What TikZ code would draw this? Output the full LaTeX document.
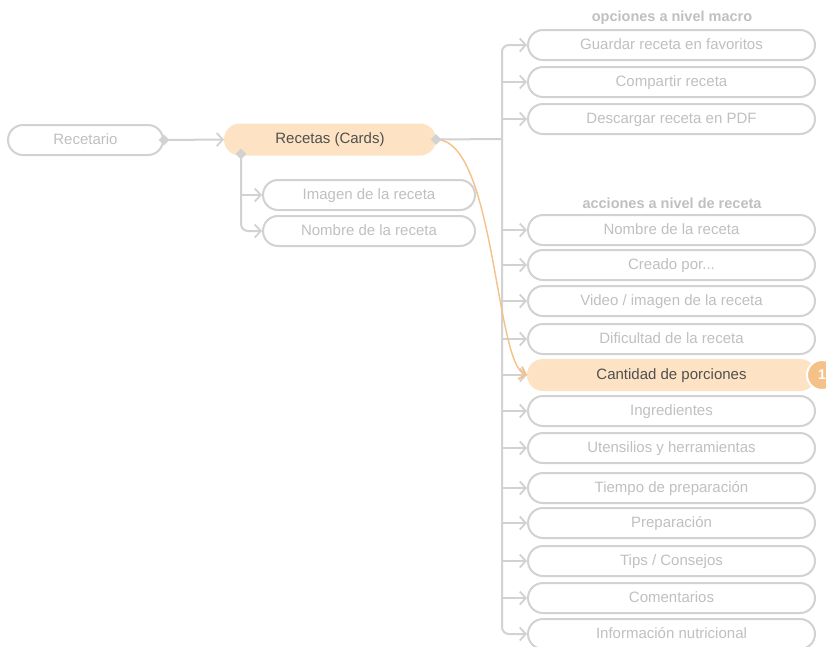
\documentclass[tikz,border=0pt]{standalone}
\usepackage{fontspec}
\setmainfont{Liberation Sans}
\usetikzlibrary{arrows.meta,shapes.geometric}

\definecolor{linegray}{HTML}{D2D2D2}
\definecolor{textgray}{HTML}{C0C0C0}
\definecolor{peach}{HTML}{FDE3C4}
\definecolor{accent}{HTML}{F6C188}
\definecolor{darktext}{HTML}{505050}

\tikzset{
  item/.style={draw=linegray, line width=2pt, rounded corners=15pt, minimum height=30pt,
    inner sep=0pt, text height=11pt, text depth=3pt, text=textgray, font=\fontsize{15}{18}\selectfont},
  wide/.style={item, minimum width=287pt},
  mid/.style={item, minimum width=212pt},
  active/.style={item, draw=peach, fill=peach, text=darktext},
  header/.style={text=textgray, font=\fontsize{14.5}{17}\selectfont\bfseries},
  link/.style={draw=linegray, line width=2pt, -{Straight Barb[length=6pt,width=13pt,line width=1.8pt]}},
  knob/.style={diamond, fill=linegray, inner sep=0pt, minimum size=11pt},
}

\begin{document}
\begin{tikzpicture}[x=1pt, y=-1pt]
        \clip (0,0) rectangle (826,646);
        \fill[white] (0,0) rectangle (826,646);

        % left part
        \node[item, minimum width=155pt] (recetario) at (85.5,140) {Recetario};
        \node[active, minimum width=210pt] (recetas) at (330,139.5) {Recetas (Cards)};
        \node[mid] (imagen) at (369,195) {Imagen de la receta};
        \node[mid] (nombreL) at (369,231) {Nombre de la receta};

        % right column
        \node[header] (macro) at (672,18) {opciones a nivel macro};
        \node[wide] (guardar) at (671.5,45) {Guardar receta en favoritos};
        \node[wide] (compartir) at (671.5,82) {Compartir receta};
        \node[wide] (descargar) at (671.5,119) {Descargar receta en PDF};

        \node[header] (acciones) at (672,203) {acciones a nivel de receta};
        \node[wide] (nombreR) at (671.5,230) {Nombre de la receta};
        \node[wide] (creado) at (671.5,265) {Creado por...};
        \node[wide] (video) at (671.5,301) {Video / imagen de la receta};
        \node[wide] (dificultad) at (671.5,339) {Dificultad de la receta};
        \node[active, minimum width=287pt] (cantidad) at (671.5,375) {Cantidad de porciones};
        \node[wide] (ingredientes) at (671.5,411) {Ingredientes};
        \node[wide] (utensilios) at (671.5,448) {Utensilios y herramientas};
        \node[wide] (tiempo) at (671.5,488) {Tiempo de preparación};
        \node[wide] (preparacion) at (671.5,523) {Preparación};
        \node[wide] (tips) at (671.5,561) {Tips / Consejos};
        \node[wide] (comentarios) at (671.5,598) {Comentarios};
        \node[wide] (informacion) at (671.5,634) {Información nutricional};

        \node[circle, fill=accent, draw=white, line width=2pt, minimum size=30pt, inner sep=0pt,
          text=white, font=\fontsize{14}{16}\selectfont\bfseries] (badge) at (822,375) {1};

        % connectors
        \coordinate (trunk) at (502,139);
        \coordinate (kBottom) at (241,154);
        \draw[link] (recetario.east) -- (recetas.west);
        \draw[link] (kBottom) |- (imagen.west);
        \draw[link, rounded corners=7pt] (kBottom) |- (nombreL.west);
        \draw[draw=linegray, line width=2pt] (recetas.east) -- (trunk);
        \draw[link, rounded corners=7pt] (trunk) |- (guardar.west);
        \foreach \n in {compartir,descargar,nombreR,creado,video,dificultad,cantidad,
                        ingredientes,utensilios,tiempo,preparacion,tips,comentarios}
          \draw[link] (trunk) |- (\n.west);
        \draw[link, rounded corners=7pt] (trunk) |- (informacion.west);
        \draw[link, draw=accent, line width=1.4pt] (recetas.east) .. controls (495,139) and (495,365) .. (cantidad.west);

        \node[knob] (kL) at (recetario.east) {};
        \node[knob] (kR) at (recetas.east) {};
        \node[knob] (kB) at (kBottom) {};
    \end{tikzpicture}
\end{document}
